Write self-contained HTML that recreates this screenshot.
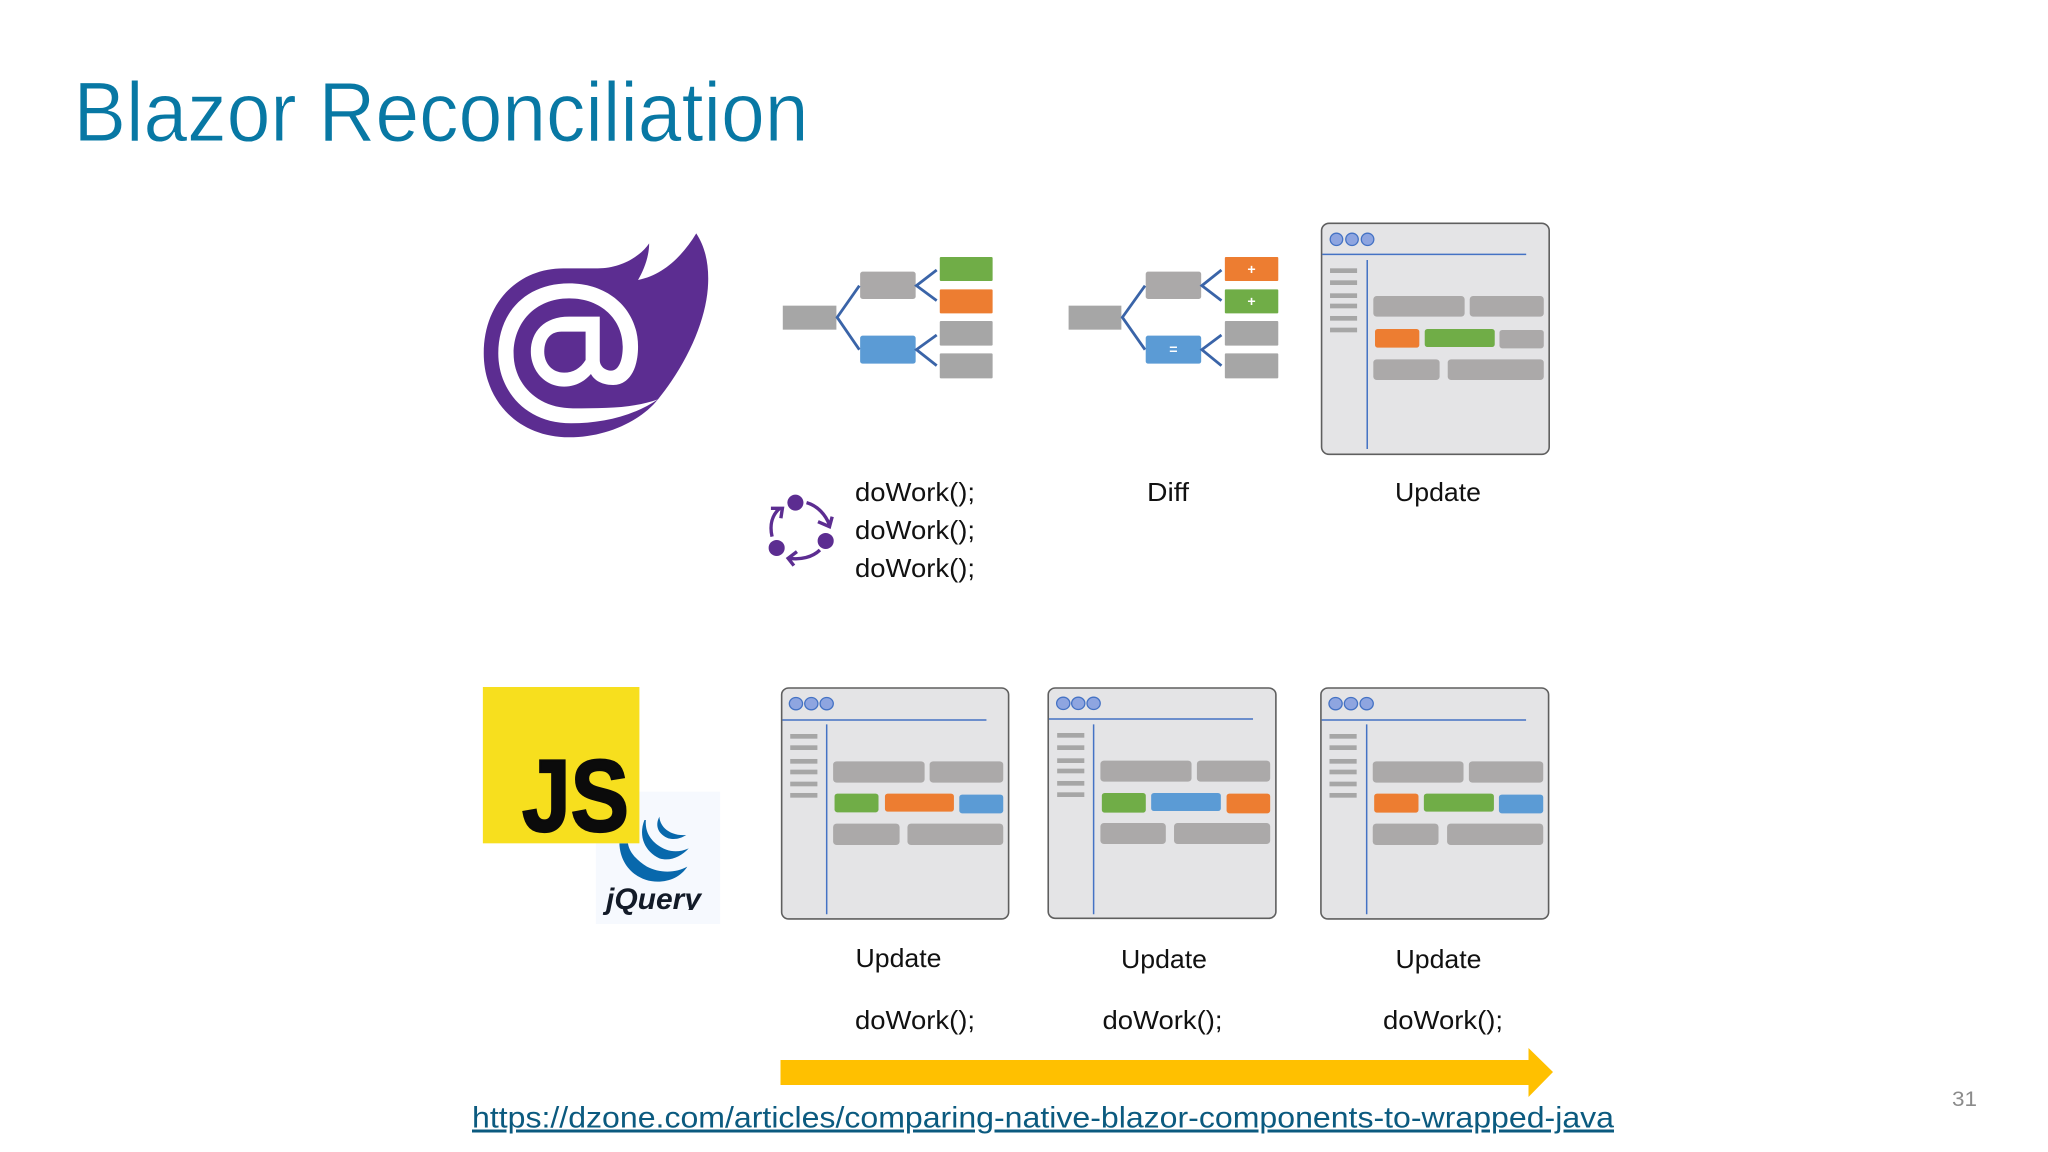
<!DOCTYPE html>
<html>
<head>
<meta charset="utf-8">
<style>
html,body{margin:0;padding:0;background:#fff;width:2048px;height:1152px;overflow:hidden}
svg{display:block}
text{font-family:"Liberation Sans",sans-serif}
.t{font-size:26px;fill:#111}
.g{fill:#ABA9A9}
.d{fill:#A6A6A6}
.or{fill:#ED7D31}
.gr{fill:#70AD47}
.bl{fill:#5B9BD5}
.bar{fill:#A6A6A6}
.win{fill:#E4E4E6;stroke:#5f5f5f;stroke-width:1.6;vector-effect:non-scaling-stroke}
.dot{fill:#8EA5E0;stroke:#4472C4;stroke-width:1.3;vector-effect:non-scaling-stroke}
.ln{stroke:#4472C4;stroke-width:1.5;fill:none;vector-effect:non-scaling-stroke}
.tr{stroke:#3A64A8;stroke-width:2.8;fill:none;vector-effect:non-scaling-stroke}
.cy{stroke:#5C2D91;stroke-width:3.4;fill:none;vector-effect:non-scaling-stroke}
.sy{font-weight:bold;font-size:42px;fill:#fff;text-anchor:middle}
</style>
</head>
<body>
<svg width="2048" height="1152" viewBox="0 0 2048 1152" xmlns="http://www.w3.org/2000/svg">
<rect width="2048" height="1152" fill="#fff"/>

<text x="73.5" y="141" font-size="84" fill="#0878A4" stroke="#fff" stroke-width="0.9" textLength="735" lengthAdjust="spacingAndGlyphs">Blazor Reconciliation</text>

<g transform="translate(460 200) scale(.3829 .3333)">
  <path fill="#5C2D91" d="M617 100 C640 140 650 190 648 250 C645 350 600 480 517 598 C470 665 380 712 285 712 C150 712 62 600 62 460 C62 310 150 205 270 205 L360 205 C420 205 470 170 494 130 C494 170 480 210 465 240 C530 225 580 170 617 100 Z"/>
  <path fill="#fff" d="M517 598 C450 650 370 670 290 670 C170 670 100 570 100 460 C100 340 170 250 285 250 C390 250 465 330 465 440 C465 510 440 555 400 555 C370 555 350 540 342 522 C325 545 300 560 272 560 C220 560 185 510 185 455 C185 395 220 350 285 350 L365 350 L365 480 C365 500 380 512 395 512 C415 512 425 480 425 440 C425 360 370 295 285 295 C195 295 140 370 140 460 C140 550 200 625 295 625 C380 625 450 625 517 598 Z"/>
  <path fill="#5C2D91" d="M265 395 L328 395 L328 480 C315 505 295 518 272 518 C240 518 220 490 220 455 C220 420 235 395 265 395 Z"/>

  <rect class="d" x="843" y="317" width="140" height="72"/>
  <rect class="g" x="1045" y="215" width="145" height="82" rx="7" ry="7"/>
  <rect class="bl" x="1045" y="407" width="145" height="84" rx="7" ry="7"/>
  <rect class="gr" x="1253" y="171" width="138" height="72" rx="3"/>
  <rect class="or" x="1253" y="268" width="138" height="72" rx="3"/>
  <rect class="d" x="1253" y="363" width="138" height="74" rx="3"/>
  <rect class="d" x="1253" y="460" width="138" height="75" rx="3"/>
  <path class="tr" d="M1043 257 L985 352 L1043 449 M1245 210 L1192 257 L1245 302 M1245 405 L1192 449 L1245 497"/>

  <ellipse cx="876" cy="908" rx="21" ry="24" fill="#5C2D91"/>
  <ellipse cx="955" cy="1023" rx="21" ry="24" fill="#5C2D91"/>
  <ellipse cx="827" cy="1044" rx="21" ry="24" fill="#5C2D91"/>
  <path class="cy" d="M905 908 C935 918 955 945 965 975 M935 965 L965 980 L972 950"/>
  <path class="cy" d="M940 1050 C920 1072 890 1080 860 1075 M880 1055 L857 1075 L872 1097"/>
  <path class="cy" d="M815 1010 C808 975 815 945 835 925 M812 925 L842 925 L838 955"/>
</g>

<text class="t" x="855" y="501" textLength="120" lengthAdjust="spacingAndGlyphs">doWork();</text>
<text class="t" x="855" y="539" textLength="120" lengthAdjust="spacingAndGlyphs">doWork();</text>
<text class="t" x="855" y="577" textLength="120" lengthAdjust="spacingAndGlyphs">doWork();</text>

<g transform="translate(1050 200) scale(.3382 .3333)">
  <rect class="d" x="55" y="317" width="156" height="72"/>
  <rect class="g" x="283" y="215" width="164" height="82" rx="7" ry="7"/>
  <rect class="bl" x="283" y="407" width="164" height="84" rx="7" ry="7"/>
  <rect class="or" x="517" y="171" width="158" height="72" rx="3"/>
  <rect class="gr" x="517" y="268" width="158" height="72" rx="3"/>
  <rect class="d" x="517" y="363" width="158" height="74" rx="3"/>
  <rect class="d" x="517" y="460" width="158" height="75" rx="3"/>
  <path class="tr" d="M281 257 L214 352 L281 449 M507 210 L449 257 L507 302 M507 405 L449 449 L507 497"/>
  <text class="sy" x="596" y="222">+</text>
  <text class="sy" x="596" y="318">+</text>
  <text class="sy" x="365" y="462">=</text>

  <rect class="win" x="803" y="70" width="673" height="693" rx="22" ry="22"/>
  <circle class="dot" cx="847" cy="118" r="18.5"/>
  <circle class="dot" cx="893" cy="118" r="18.5"/>
  <circle class="dot" cx="939" cy="118" r="18.5"/>
  <path class="ln" d="M805 163 H1408 M938 180 V747"/>
  <rect class="bar" x="828" y="205" width="80" height="14"/>
  <rect class="bar" x="828" y="241" width="80" height="14"/>
  <rect class="bar" x="828" y="280" width="80" height="14"/>
  <rect class="bar" x="828" y="311" width="80" height="14"/>
  <rect class="bar" x="828" y="348" width="80" height="14"/>
  <rect class="bar" x="828" y="383" width="80" height="14"/>
  <rect class="g" x="956" y="288" width="270" height="62" rx="10"/>
  <rect class="g" x="1241" y="288" width="219" height="62" rx="10"/>
  <rect class="or" x="961" y="387" width="131" height="56" rx="8"/>
  <rect class="gr" x="1108" y="387" width="207" height="54" rx="8"/>
  <rect class="g" x="1329" y="390" width="131" height="55" rx="8"/>
  <rect class="g" x="956" y="478" width="196" height="62" rx="10"/>
  <rect class="g" x="1176" y="478" width="284" height="62" rx="10"/>
</g>

<text class="t" x="1147" y="501" textLength="42" lengthAdjust="spacingAndGlyphs">Diff</text>
<text class="t" x="1395" y="501" textLength="86" lengthAdjust="spacingAndGlyphs">Update</text>

<g transform="translate(470 670) scale(.3574 .3333)">
  <rect fill="#F6F9FE" x="352" y="365" width="348" height="397"/>
  <path fill="#0868AC" d="M418 520 C420 590 470 635 525 635 C560 635 590 620 608 590 C575 610 530 610 495 590 C465 570 445 545 442 520 Z"/>
  <path fill="#0868AC" d="M488 450 C470 500 490 545 530 565 C560 575 590 560 612 535 C580 550 550 545 525 525 C500 505 490 480 492 450 Z"/>
  <path fill="#0868AC" d="M530 440 C515 470 530 495 555 505 C575 510 590 505 605 495 C580 497 560 490 545 475 C535 465 530 450 530 440 Z"/>
  <rect fill="#F7DF1E" x="36" y="51" width="438" height="469"/>

  <rect class="win" x="872" y="54" width="635" height="693" rx="20" ry="20"/>
  <circle class="dot" cx="912" cy="101" r="18.5"/>
  <circle class="dot" cx="955" cy="101" r="18.5"/>
  <circle class="dot" cx="998" cy="101" r="18.5"/>
  <path class="ln" d="M874 150 H1445 M998 163 V733"/>
  <rect class="bar" x="896" y="192" width="76" height="14"/>
  <rect class="bar" x="896" y="226" width="76" height="14"/>
  <rect class="bar" x="896" y="267" width="76" height="14"/>
  <rect class="bar" x="896" y="299" width="76" height="14"/>
  <rect class="bar" x="896" y="335" width="76" height="14"/>
  <rect class="bar" x="896" y="369" width="76" height="14"/>
  <rect class="g" x="1016" y="274" width="256" height="64" rx="10"/>
  <rect class="g" x="1286" y="274" width="206" height="64" rx="10"/>
  <rect class="gr" x="1020" y="371" width="123" height="56" rx="8"/>
  <rect class="or" x="1161" y="371" width="193" height="54" rx="8"/>
  <rect class="bl" x="1369" y="374" width="123" height="56" rx="8"/>
  <rect class="g" x="1016" y="461" width="186" height="64" rx="10"/>
  <rect class="g" x="1224" y="461" width="268" height="64" rx="10"/>
</g>

<text x="522" y="831" font-size="102" font-weight="bold" fill="#0b0b0b" stroke="#0b0b0b" stroke-width="2.2" textLength="107" lengthAdjust="spacingAndGlyphs">JS</text>
<text x="606" y="909" font-size="30" font-weight="bold" font-style="italic" fill="#131B28" textLength="95" lengthAdjust="spacingAndGlyphs">jQuery</text>
<rect x="682" y="910" width="24" height="10" fill="#F6F9FE"/>

<g transform="translate(1030 670) scale(.3574 .3333)">
  <rect class="win" x="51" y="54" width="637" height="691" rx="20" ry="20"/>
  <circle class="dot" cx="93" cy="100" r="18.5"/>
  <circle class="dot" cx="135" cy="100" r="18.5"/>
  <circle class="dot" cx="178" cy="100" r="18.5"/>
  <path class="ln" d="M53 147 H624 M178 163 V733"/>
  <rect class="bar" x="76" y="189" width="76" height="14"/>
  <rect class="bar" x="76" y="226" width="76" height="14"/>
  <rect class="bar" x="76" y="265" width="76" height="14"/>
  <rect class="bar" x="76" y="296" width="76" height="14"/>
  <rect class="bar" x="76" y="333" width="76" height="14"/>
  <rect class="bar" x="76" y="367" width="76" height="14"/>
  <rect class="g" x="197" y="272" width="255" height="63" rx="10"/>
  <rect class="g" x="467" y="272" width="205" height="63" rx="10"/>
  <rect class="gr" x="201" y="369" width="123" height="59" rx="8"/>
  <rect class="bl" x="339" y="369" width="195" height="54" rx="8"/>
  <rect class="or" x="550" y="371" width="122" height="59" rx="8"/>
  <rect class="g" x="197" y="459" width="183" height="63" rx="10"/>
  <rect class="g" x="403" y="459" width="269" height="63" rx="10"/>

  <rect class="win" x="814" y="54" width="637" height="693" rx="20" ry="20"/>
  <circle class="dot" cx="855" cy="101" r="18.5"/>
  <circle class="dot" cx="898" cy="101" r="18.5"/>
  <circle class="dot" cx="942" cy="101" r="18.5"/>
  <path class="ln" d="M816 150 H1388 M942 163 V733"/>
  <rect class="bar" x="838" y="192" width="76" height="14"/>
  <rect class="bar" x="838" y="226" width="76" height="14"/>
  <rect class="bar" x="838" y="267" width="76" height="14"/>
  <rect class="bar" x="838" y="299" width="76" height="14"/>
  <rect class="bar" x="838" y="335" width="76" height="14"/>
  <rect class="bar" x="838" y="369" width="76" height="14"/>
  <rect class="g" x="959" y="274" width="254" height="64" rx="10"/>
  <rect class="g" x="1228" y="274" width="208" height="64" rx="10"/>
  <rect class="or" x="963" y="371" width="124" height="57" rx="8"/>
  <rect class="gr" x="1102" y="371" width="196" height="54" rx="8"/>
  <rect class="bl" x="1312" y="374" width="124" height="56" rx="8"/>
  <rect class="g" x="959" y="461" width="184" height="64" rx="10"/>
  <rect class="g" x="1167" y="461" width="269" height="64" rx="10"/>
</g>

<text class="t" x="855.5" y="967" textLength="86" lengthAdjust="spacingAndGlyphs">Update</text>
<text class="t" x="1121" y="968" textLength="86" lengthAdjust="spacingAndGlyphs">Update</text>
<text class="t" x="1395.5" y="968" textLength="86" lengthAdjust="spacingAndGlyphs">Update</text>
<text class="t" x="855" y="1029" textLength="120" lengthAdjust="spacingAndGlyphs">doWork();</text>
<text class="t" x="1102.5" y="1029" textLength="120" lengthAdjust="spacingAndGlyphs">doWork();</text>
<text class="t" x="1383" y="1029" textLength="120" lengthAdjust="spacingAndGlyphs">doWork();</text>

<polygon fill="#FFC000" points="780.5,1060 1528.5,1060 1528.5,1048 1553,1072 1528.5,1097 1528.5,1085 780.5,1085"/>

<text x="472" y="1127.5" font-size="30" fill="#0B5A7F" textLength="1142" lengthAdjust="spacingAndGlyphs" text-decoration="underline">https://dzone.com/articles/comparing-native-blazor-components-to-wrapped-java</text>
<text x="1952" y="1106" font-size="21" fill="#8b8b8b" textLength="25" lengthAdjust="spacingAndGlyphs">31</text>
</svg>
</body>
</html>
